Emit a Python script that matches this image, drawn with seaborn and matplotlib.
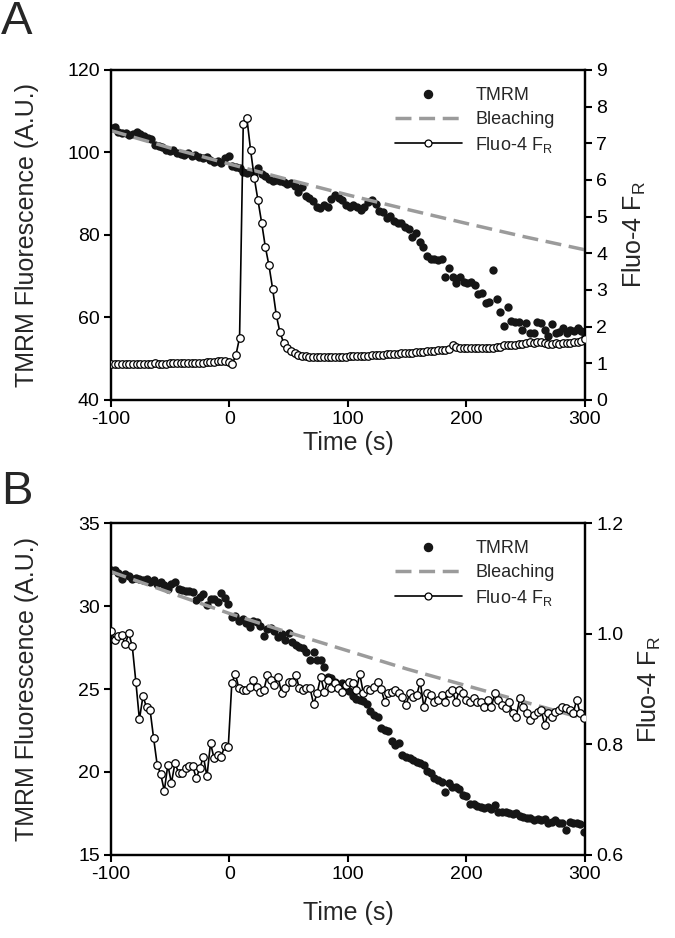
import numpy as np
import matplotlib
matplotlib.use("Agg")
import matplotlib.pyplot as plt
from matplotlib.lines import Line2D
import seaborn as sns

sns.set_style("ticks")
plt.rcParams['font.family'] = ['Liberation Sans', 'DejaVu Sans']
plt.rcParams['mathtext.default'] = 'regular'
plt.rcParams['axes.unicode_minus'] = False

# ---------------- Panel A data ----------------
time_A = np.linspace(-100, 300, 130)
tmrm_A = [105.9, 106.1, 105.0, 104.7, 104.8, 104.3, 104.5, 104.9, 104.4, 104.0,
          103.6, 103.2, 101.7, 101.5, 101.3, 100.6, 100.3, 100.5, 99.8, 99.6,
          99.3, 99.8, 99.2, 99.4, 99.0, 98.6, 98.9, 98.2, 97.6, 97.9,
          97.4, 98.6, 99.2, 96.8, 96.5, 96.2, 95.2, 95.0, 95.3, 95.1,
          96.2, 94.8, 94.3, 93.5, 93.0, 93.3, 93.2, 92.9, 92.3, 92.6,
          91.8, 90.5, 91.6, 89.5, 89.0, 88.2, 86.9, 86.5, 87.2, 86.8,
          88.6, 89.6, 88.9, 88.5, 87.3, 86.9, 87.2, 86.9, 86.0, 86.9,
          88.0, 88.5, 87.6, 85.8, 85.6, 84.2, 84.6, 83.3, 82.8, 83.0,
          82.0, 81.4, 79.6, 80.4, 78.4, 77.2, 74.9, 74.2, 74.1, 74.0,
          74.2, 69.9, 71.9, 69.9, 68.3, 69.9, 68.7, 68.3, 68.5, 67.9,
          65.8, 65.9, 63.4, 63.8, 71.4, 64.4, 61.4, 57.9, 62.5, 59.2,
          58.8, 58.9, 57.0, 58.6, 56.2, 56.3, 58.8, 58.7, 57.0, 55.4,
          58.5, 56.2, 56.4, 57.5, 56.2, 57.0, 56.6, 57.4, 56.6, 55.6]
fluo_A = [0.98, 0.97, 0.98, 0.98, 0.97, 0.98, 0.98, 0.97, 0.98, 0.98,
          0.97, 0.98, 1.00, 0.99, 0.99, 0.99, 1.00, 1.00, 1.00, 1.00,
          1.01, 1.01, 1.01, 1.02, 1.02, 1.02, 1.03, 1.03, 1.04, 1.06,
          1.07, 1.06, 1.04, 0.98, 1.22, 1.70, 7.52, 7.68, 6.81, 6.06,
          5.45, 4.84, 4.18, 3.67, 3.03, 2.31, 1.84, 1.56, 1.42, 1.33,
          1.27, 1.23, 1.21, 1.19, 1.18, 1.17, 1.17, 1.16, 1.17, 1.17,
          1.17, 1.17, 1.18, 1.18, 1.18, 1.19, 1.19, 1.20, 1.20, 1.21,
          1.21, 1.22, 1.22, 1.23, 1.23, 1.24, 1.24, 1.25, 1.25, 1.27,
          1.27, 1.28, 1.29, 1.30, 1.31, 1.32, 1.33, 1.34, 1.34, 1.36,
          1.36, 1.37, 1.38, 1.50, 1.45, 1.42, 1.41, 1.41, 1.42, 1.41,
          1.42, 1.42, 1.43, 1.42, 1.43, 1.44, 1.44, 1.49, 1.50, 1.49,
          1.50, 1.52, 1.53, 1.56, 1.57, 1.56, 1.59, 1.58, 1.55, 1.53,
          1.52, 1.54, 1.53, 1.55, 1.56, 1.56, 1.57, 1.58, 1.60, 1.65]
bleach_time = [-100, -50, 0, 50, 100, 150, 200, 250, 300]
bleach_A = [105.3, 101.1, 97.2, 93.4, 89.7, 86.2, 82.8, 79.5, 76.4]

# ---------------- Panel B data ----------------
time_B = np.linspace(-100, 299, 134)
tmrm_B = [32.2, 32.15, 32.0, 31.6, 31.95, 31.8, 31.6, 31.7, 31.6, 31.55,
          31.6, 31.45, 31.55, 31.35, 31.45, 31.25, 31.05, 31.3, 31.45, 31.0,
          30.95, 30.9, 30.92, 30.85, 30.36, 30.56, 30.72, 30.06, 30.4, 30.45,
          30.26, 30.8, 30.5, 30.1, 29.35, 29.4, 29.1, 29.2, 29.0, 28.75,
          29.1, 29.05, 28.8, 28.2, 28.6, 28.65, 28.5, 28.15, 28.3, 27.95,
          28.4, 27.85, 27.65, 27.55, 27.5, 27.25, 26.75, 27.25, 26.75, 26.75,
          26.35, 25.75, 25.65, 25.45, 25.25, 25.35, 25.2, 24.9, 24.6, 24.4,
          24.35, 24.3, 24.1, 23.7, 23.45, 23.3, 22.65, 22.55, 22.45, 21.85,
          21.6, 21.75, 21.0, 20.9, 20.82, 20.72, 20.6, 20.52, 20.45, 20.05,
          19.92, 19.62, 19.5, 19.4, 18.81, 19.32, 19.1, 19.11, 19.0, 18.61,
          18.55, 18.07, 18.1, 17.95, 17.9, 17.85, 17.9, 17.75, 18.0, 17.6,
          17.62, 17.58, 17.5, 17.45, 17.5, 17.35, 17.3, 17.25, 17.2, 17.1,
          17.15, 17.1, 17.15, 16.9, 17.0, 17.1, 16.95, 16.9, 16.5, 17.0,
          16.9, 16.95, 16.85, 16.4]
fluo_B = [1.004, 0.989, 0.996, 0.997, 0.981, 1.001, 0.977, 0.913, 0.845, 0.887,
          0.867, 0.862, 0.811, 0.763, 0.746, 0.716, 0.763, 0.730, 0.766, 0.749,
          0.749, 0.757, 0.760, 0.760, 0.739, 0.757, 0.778, 0.742, 0.802, 0.775,
          0.781, 0.778, 0.797, 0.796, 0.911, 0.927, 0.901, 0.899, 0.898, 0.904,
          0.916, 0.904, 0.895, 0.898, 0.925, 0.916, 0.907, 0.922, 0.892, 0.901,
          0.913, 0.913, 0.925, 0.901, 0.899, 0.901, 0.901, 0.873, 0.892, 0.922,
          0.895, 0.916, 0.901, 0.910, 0.901, 0.895, 0.907, 0.913, 0.910, 0.898,
          0.927, 0.892, 0.900, 0.898, 0.904, 0.913, 0.900, 0.877, 0.892, 0.895,
          0.898, 0.892, 0.886, 0.871, 0.892, 0.886, 0.889, 0.913, 0.868, 0.892,
          0.889, 0.877, 0.880, 0.889, 0.877, 0.892, 0.898, 0.877, 0.898, 0.892,
          0.880, 0.877, 0.883, 0.877, 0.877, 0.868, 0.880, 0.868, 0.892, 0.880,
          0.871, 0.865, 0.877, 0.856, 0.850, 0.883, 0.868, 0.856, 0.844, 0.853,
          0.859, 0.862, 0.835, 0.856, 0.850, 0.859, 0.862, 0.868, 0.865, 0.862,
          0.856, 0.880, 0.856, 0.847]
bleach_B = [32.07, 30.8, 29.55, 28.4, 27.3, 26.2, 25.2, 24.2, 23.2]

x_ticks = [-100, 0, 100, 200, 300]
legend_labels = ["TMRM", "Bleaching", "Fluo-4 F$_{\\mathregular{R}}$"]

DOT = "#161616"
GRAY = "#9b9b9b"
TICK_FS = 14
LABEL_FS = 18

fig = plt.figure(figsize=(6.75, 9.38), dpi=100)
axA = fig.add_axes([0.1644, 0.5736, 0.7022, 0.3518])
axB = fig.add_axes([0.1644, 0.0885, 0.7022, 0.3539])


def draw_panel(ax, t, tmrm, bleach, fluo, ylim, yticks, rlim, rticks, rticklabels,
               leg_top_px, xlabel_y, rlabel_x):
    ax2 = ax.twinx()
    sns.scatterplot(x=t, y=tmrm, ax=ax, color=DOT, s=36, linewidth=0, zorder=3)
    sns.lineplot(x=bleach_time, y=bleach, ax=ax, color=GRAY, linewidth=2.5,
                 dashes=False, zorder=4)
    ax.lines[-1].set_dashes((4.6, 2.2))
    sns.lineplot(x=t, y=fluo, ax=ax2, color="black", linewidth=1.2, marker="o",
                 markersize=5.4, markerfacecolor="white", markeredgecolor="black",
                 markeredgewidth=0.9, zorder=5)
    ax.set_xlim(-100, 300)
    ax.set_ylim(*ylim)
    ax.set_yticks(yticks)
    ax.set_xticks(x_ticks)
    ax2.set_ylim(*rlim)
    ax2.set_yticks(rticks)
    ax2.set_yticklabels(rticklabels)
    for a in (ax, ax2):
        for s in a.spines.values():
            s.set_visible(True)
            s.set_linewidth(1.6)
            s.set_color("black")
        a.tick_params(labelsize=TICK_FS, width=1.5, length=5, direction="out",
                      colors="black", pad=3)
    ax.set_xlabel("Time (s)", fontsize=LABEL_FS)
    ax.set_ylabel("TMRM Fluorescence (A.U.)", fontsize=LABEL_FS)
    ax2.set_ylabel("Fluo-4 F$_{\\mathregular{R}}$", fontsize=LABEL_FS)
    ax.yaxis.set_label_coords(-0.152, 0.5)
    ax2.yaxis.set_label_coords(rlabel_x, 0.5)
    ax.xaxis.set_label_coords(0.5, xlabel_y)

    handles = [
        Line2D([], [], linestyle="none", marker="o", markersize=5.8, color=DOT),
        Line2D([], [], color=GRAY, linewidth=2.5, dashes=(4.6, 2.2)),
        Line2D([], [], color="black", linewidth=1.2, marker="o", markersize=5,
               markerfacecolor="white", markeredgecolor="black", markeredgewidth=0.9),
    ]
    ax2.legend(handles, legend_labels, loc="upper left",
               bbox_to_anchor=(395 / 675, 1 - leg_top_px / 938),
               bbox_transform=fig.transFigure, frameon=False, fontsize=13,
               handlelength=3.7, handletextpad=0.75, labelspacing=0.38,
               borderpad=0, borderaxespad=0)
    return ax2


draw_panel(axA, time_A, tmrm_A, bleach_A, fluo_A, (40, 120), [40, 60, 80, 100, 120],
           (0, 9), list(range(10)), [str(v) for v in range(10)], 87, -0.095, 1.075)
draw_panel(axB, time_B, tmrm_B, bleach_B, fluo_B, (15, 35), [15, 20, 25, 30, 35],
           (0.6, 1.2), [0.6, 0.8, 1.0, 1.2], ["0.6", "0.8", "1.0", "1.2"], 540, -0.14,
           1.108)

fig.text(0.002, 1.0, "A", fontsize=34, va="top", ha="left")
fig.text(0.002, 0.4985, "B", fontsize=34, va="top", ha="left")

fig.savefig("out.png", dpi=100)
